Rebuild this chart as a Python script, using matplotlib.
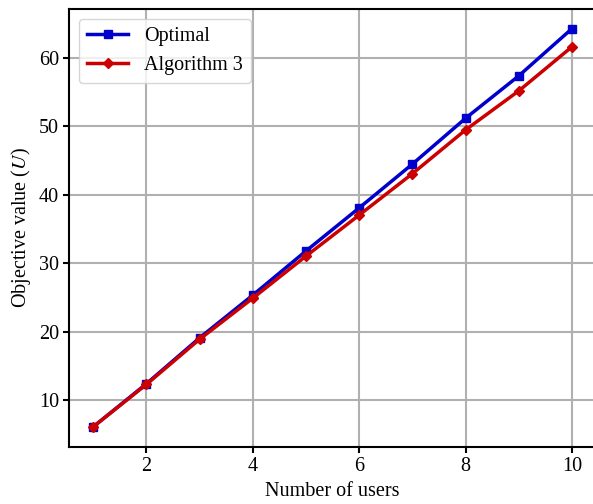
import matplotlib
matplotlib.use("Agg")
import matplotlib.pyplot as plt

users = [1, 2, 3, 4, 5, 6, 7, 8, 9, 10]
optimal = [6.1, 12.4, 19.1, 25.35, 31.8, 38.1, 44.5, 51.2, 57.4, 64.3]
algorithm3 = [6.1, 12.3, 18.9, 24.9, 31.05, 37.05, 43.1, 49.5, 55.2, 61.65]

plt.rcParams['font.family'] = ['Liberation Serif', 'DejaVu Serif']
plt.rcParams['mathtext.fontset'] = 'stix'
plt.rcParams['font.size'] = 14.5

fig = plt.figure(figsize=(5.93, 5.04), dpi=100)
ax = fig.add_axes([0.1169, 0.1137, 0.888, 0.869])

ax.plot(users, optimal, color='#0000cc', marker='s', markersize=6, linewidth=2.5, label='Optimal')
ax.plot(users, algorithm3, color='#cc0000', marker='D', markersize=5.5, linewidth=2.5, label='Algorithm 3')

ax.set_xlabel('Number of users')
ax.set_ylabel('Objective value ($U$)')
ax.set_xticks([2, 4, 6, 8, 10])
ax.grid(True, color='#b0b0b0', linewidth=1.5)
ax.tick_params(width=1.5, length=4)
for s in ax.spines.values():
    s.set_linewidth(1.5)
# right edge falls just outside the saved image
ax.spines['right'].set_visible(False)
ax.legend(loc='upper left')

fig.savefig('out.png', dpi=100)
